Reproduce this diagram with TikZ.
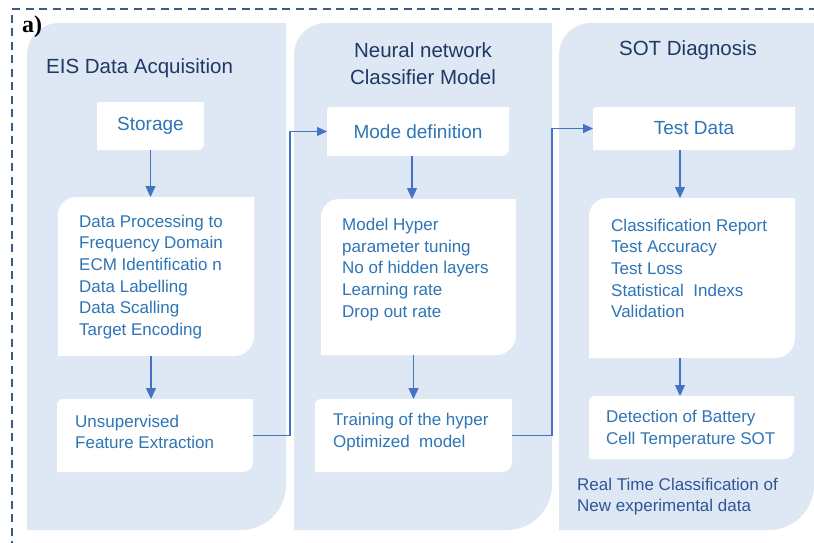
\documentclass[tikz,border=0pt]{standalone}
\usepackage{fontspec}
\setmainfont{Liberation Sans}
\newfontfamily\labelserif{Liberation Serif}
\usetikzlibrary{arrows.meta}
\definecolor{panelfill}{HTML}{DEE8F4}
\definecolor{titlecol}{HTML}{203864}
\definecolor{boxtext}{HTML}{2E75B6}
\definecolor{arrowcol}{HTML}{4472C4}
\definecolor{notecol}{HTML}{2F5597}
\definecolor{framecol}{HTML}{3E5889}
% #1 x1, #2 y1, #3 x2, #4 y2, #5 top-left radius, #6 bottom-right radius, #7 fill colour
\newcommand\cornerfill[7]{%
  \fill[#7] (#1,#4) -- (#1,{#2+#5}) .. controls (#1,{#2+0.448*#5}) and ({#1+0.448*#5},#2) .. ({#1+#5},#2)
    -- (#3,#2) -- (#3,{#4-#6}) .. controls (#3,{#4-0.448*#6}) and ({#3-0.448*#6},#4) .. ({#3-#6},#4) -- cycle;}
\begin{document}
\begin{tikzpicture}[x=1pt,y=-1pt,
  geo/.style={inner sep=0pt,outer sep=0pt,text=boxtext,font=\fontsize{19}{22}\selectfont},
  listtext/.style={inner sep=0pt,anchor=west,align=left,text=boxtext,font=\fontsize{17}{21.7}\selectfont},
  titletext/.style={inner sep=0pt,align=center,text=titlecol,font=\fontsize{20.5}{26.5}\selectfont},
  arr/.style={draw=arrowcol,line width=1.3pt,-{Triangle[length=11pt,width=10pt]}},
  link/.style={draw=arrowcol,line width=1.1pt,-{Triangle[length=10pt,width=9pt]}},
  frame/.style={draw=framecol,line width=2.2pt,dash pattern=on 8pt off 5.5pt}]
\useasboundingbox (0,0) rectangle (814,542);
\begin{scope}
\clip (0,0) rectangle (814,542);
\fill[white] (0,0) rectangle (814,542);
\draw[frame] (830,9) -- (12,9) -- (12,560);
% panels
\cornerfill{27}{23}{286}{530}{32}{45}{panelfill}
\cornerfill{294}{23}{552}{530}{32}{45}{panelfill}
\cornerfill{559}{23}{814}{530}{32}{45}{panelfill}
% box backgrounds
\cornerfill{97}{102}{204}{150}{2}{6}{white}
\cornerfill{58}{197}{254}{356}{18}{20}{white}
\cornerfill{57}{399}{253}{472}{6}{10}{white}
\cornerfill{327}{107}{509}{156}{3}{7}{white}
\cornerfill{321}{199}{516}{355}{18}{20}{white}
\cornerfill{315}{399}{512}{472}{6}{10}{white}
\cornerfill{593}{107}{795}{150}{3}{6}{white}
\cornerfill{589}{198}{795}{358}{18}{20}{white}
\cornerfill{589}{396}{794}{459}{6}{10}{white}
% box nodes
\node[geo,minimum width=107pt,minimum height=48pt] (storage) at (150.5,126) {Storage};
\node[geo,minimum width=196pt,minimum height=159pt] (dp) at (156,276.5) {};
\node[geo,minimum width=196pt,minimum height=73pt] (unsup) at (155,435.5) {};
\node[geo,minimum width=182pt,minimum height=49pt] (mode) at (418,131.5) {Mode definition};
\node[geo,minimum width=195pt,minimum height=156pt] (mh) at (418.5,277) {};
\node[geo,minimum width=197pt,minimum height=73pt] (train) at (413.5,435.5) {};
\node[geo,minimum width=202pt,minimum height=43pt] (test) at (694,128.5) {Test Data};
\node[geo,minimum width=206pt,minimum height=160pt] (cls) at (692,278) {};
\node[geo,minimum width=205pt,minimum height=63pt] (det) at (691.5,427.5) {};
% texts
\node[inner sep=0pt,font=\labelserif\bfseries\fontsize{24}{26}\selectfont] (lbl) at (32,27) {a)};
\node[titletext,anchor=west] (t1) at (46,68) {EIS Data Acquisition};
\node[titletext] (t2) at (423,63.5) {Neural network\\Classifier Model};
\node[titletext] (t3) at (688,50) {SOT Diagnosis};
\node[listtext] (dptext) at (79,277) {Data Processing to\\Frequency Domain\\ECM Identificatio n\\Data Labelling\\Data Scalling\\Target Encoding};
\node[listtext] (unsuptext) at (75,432) {Unsupervised\\Feature Extraction};
\node[listtext] (mhtext) at (342,269.5) {Model Hyper\\parameter tuning\\No of hidden layers\\Learning rate\\Drop out rate};
\node[listtext] (traintext) at (333,432) {Training of the hyper\\Optimized\ \ model};
\node[listtext] (clstext) at (611,268.5) {Classification Report\\Test Accuracy\\Test Loss\\Statistical\ \ Indexs\\Validation};
\node[listtext] (dettext) at (606,429) {Detection of Battery\\Cell Temperature SOT};
\node[listtext,text=notecol] (note) at (577,496.5) {Real Time Classification of\\New experimental data};
% arrows
\draw[arr] (storage.south) -- (storage.south |- dp.north);
\draw[arr] ([xshift=-5pt]dp.south) -- ([xshift=-5pt]dp.south |- unsup.north);
\draw[arr] ([xshift=-6pt]mode.south) -- ([xshift=-6pt]mode.south |- mh.north);
\draw[arr] ([xshift=-5pt]mh.south) -- ([xshift=-5pt]mh.south |- train.north);
\draw[arr] ([xshift=-14pt]test.south) -- ([xshift=-14pt]test.south |- cls.north);
\draw[arr] ([xshift=-12pt]cls.south) -- ([xshift=-12pt]cls.south |- det.north);
\draw[link] (unsup.east) -- ++(37,0) |- (mode.west);
\draw[link] (train.east) -- ++(40,0) |- (test.west);
\end{scope}
\end{tikzpicture}
\end{document}
